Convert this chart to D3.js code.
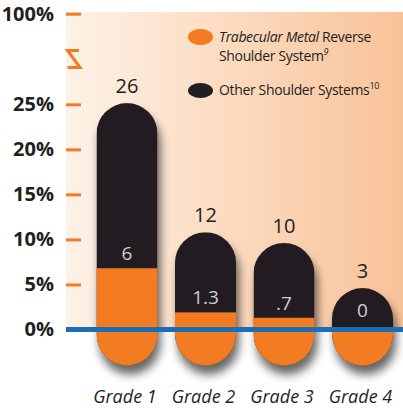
<!DOCTYPE html>
<html>
<head>
<meta charset="utf-8">
<script src="https://cdn.jsdelivr.net/npm/d3@7"></script>
<style>
  html, body { margin: 0; padding: 0; background: #fff; }
  svg { display: block; font-family: 'Open Sans', sans-serif; }
</style>
</head>
<body>
<div id="viz"></div>
<script>
const width = 403;
const height = 408;

// Data
const grades = ['Grade 1', 'Grade 2', 'Grade 3', 'Grade 4'];
const otherTop = [26, 10.8, 9.6, 4.6];   // top of each capsule, as drawn on the axis (%)
const tmTop = [6.8, 1.9, 1.3, 0];        // top of the orange part, as drawn (%)
const otherLabels = ['26', '12', '10', '3'];
const tmLabels = ['6', '1.3', '.7', '0'];
const yTicks = [0, 5, 10, 15, 20, 25, 100];
const yTickLabels = ['0%', '5%', '10%', '15%', '20%', '25%', '100%'];

const orange = '#f37b21';
const black = '#231f20';
const blue = '#1b6db5';

const svg = d3.select('#viz')
  .append('svg')
    .attr('width', width)
    .attr('height', height);

const defs = svg.append('defs');

const grad = defs.append('linearGradient')
    .attr('id', 'bg')
    .attr('x1', 0).attr('x2', 1).attr('y1', 0).attr('y2', 0);
grad.append('stop').attr('offset', '0%').attr('stop-color', '#fdf2e8');
grad.append('stop').attr('offset', '45%').attr('stop-color', '#fcdcc2');
grad.append('stop').attr('offset', '100%').attr('stop-color', '#f8c299');

const shadow = defs.append('filter')
    .attr('id', 'shadow')
    .attr('x', '-40%').attr('y', '-20%')
    .attr('width', '180%').attr('height', '160%');
shadow.append('feDropShadow')
    .attr('dx', 3).attr('dy', 9)
    .attr('stdDeviation', 5)
    .attr('flood-color', '#000')
    .attr('flood-opacity', 0.6);

// broken scale: 0-25 linear, then jump to 100
const yScale = d3.scaleLinear()
  .domain([0, 25, 100])
  .range([329.5, 104.3, 13.7]);

const xScale = d3.scalePoint()
  .domain(grades)
  .range([127, 362.5]);

const r = 30.5;
const base = yScale(0);
const bottomRy = 32;

// background panel
svg.append('rect')
    .attr('x', 66)
    .attr('y', 12)
    .attr('width', width - 66)
    .attr('height', base - 12)
    .attr('fill', 'url(#bg)');

// y axis
const yAxis = d3.axisLeft(yScale)
  .tickValues(yTicks)
  .tickFormat((d, i) => yTickLabels[i])
  .tickSizeInner(15)
  .tickSizeOuter(0)
  .tickPadding(12);

const yAxisGroup = svg.append('g')
    .attr('transform', 'translate(81, 0)')
    .call(yAxis);
yAxisGroup.select('.domain').remove();
yAxisGroup.selectAll('.tick line')
    .attr('stroke', orange)
    .attr('stroke-width', 3);
yAxisGroup.selectAll('.tick text')
    .attr('fill', black)
    .style('font-size', '20px')
    .style('font-weight', 700)
    .style('font-family', "'Open Sans', sans-serif");

// axis break mark
const breakY = (yScale(25) + yScale(100)) / 2;
svg.append('path')
    .attr('d', `M79,${breakY - 8.5} H67.5 L80,${breakY + 8.5} H67.5`)
    .attr('fill', 'none')
    .attr('stroke', orange)
    .attr('stroke-width', 3);

// capsule shape for each grade
const capsule = (d, i) => {
  const cx = xScale(d);
  const top = yScale(otherTop[i]);
  return `M${cx - r},${base + 4} V${top + r} A${r},${r} 0 0 1 ${cx + r},${top + r}` +
    ` V${base + 4} A${r},${bottomRy} 0 0 1 ${cx - r},${base + 4} Z`;
};

grades.forEach((g, i) => {
  defs.append('clipPath')
      .attr('id', `clip${i}`)
    .append('path')
      .attr('d', capsule(g, i));
});

const bars = svg.append('g')
  .selectAll('g')
  .data(grades)
  .join('g')
    .attr('filter', 'url(#shadow)');

const inner = bars.append('g')
    .attr('clip-path', (d, i) => `url(#clip${i})`);

inner.append('rect')
    .attr('x', d => xScale(d) - r)
    .attr('y', (d, i) => yScale(otherTop[i]))
    .attr('width', 2 * r)
    .attr('height', (d, i) => base - yScale(otherTop[i]) + 40)
    .attr('fill', black);

inner.append('rect')
    .attr('x', d => xScale(d) - r)
    .attr('y', (d, i) => yScale(tmTop[i]))
    .attr('width', 2 * r)
    .attr('height', (d, i) => base - yScale(tmTop[i]) + 40)
    .attr('fill', orange);

// blue baseline
svg.append('line')
    .attr('x1', 66)
    .attr('x2', width)
    .attr('y1', base)
    .attr('y2', base)
    .attr('stroke', blue)
    .attr('stroke-width', 5);

// value labels above bars
svg.append('g')
  .selectAll('text')
  .data(grades)
  .join('text')
    .attr('x', d => xScale(d))
    .attr('y', (d, i) => yScale(otherTop[i]) - 10)
    .attr('text-anchor', 'middle')
    .attr('fill', black)
    .style('font-size', '20px')
    .text((d, i) => otherLabels[i]);

// value labels inside bars
svg.append('g')
  .selectAll('text')
  .data(grades)
  .join('text')
    .attr('x', d => xScale(d))
    .attr('y', (d, i) => Math.min(yScale(tmTop[i]) - 8, base - 13))
    .attr('text-anchor', 'middle')
    .attr('fill', '#cfcfcf')
    .style('font-size', '19px')
    .text((d, i) => tmLabels[i]);

// grade labels
svg.append('g')
  .selectAll('text')
  .data(grades)
  .join('text')
    .attr('x', d => xScale(d) - 2)
    .attr('y', 403)
    .attr('text-anchor', 'middle')
    .attr('fill', black)
    .style('font-size', '18px')
    .style('font-style', 'italic')
    .text(d => d);

// legend
const legend = svg.append('g');
legend.append('ellipse')
    .attr('cx', 200.5).attr('cy', 37)
    .attr('rx', 12.5).attr('ry', 8)
    .attr('fill', orange);
legend.append('ellipse')
    .attr('cx', 200.5).attr('cy', 90.5)
    .attr('rx', 12.5).attr('ry', 7.5)
    .attr('fill', black);

const legendText = (y) => legend.append('text')
    .attr('x', 219).attr('y', y)
    .attr('fill', black)
    .style('font-size', '14px')
    .style('letter-spacing', '-0.35px');

const l1 = legendText(42);
l1.append('tspan').style('font-style', 'italic').text('Trabecular Metal');
l1.append('tspan').text(' Reverse');

const l2 = legendText(61);
l2.append('tspan').text('Shoulder System');
l2.append('tspan').attr('dy', -6).style('font-size', '9px').style('font-style', 'italic').text('9');

const l3 = legendText(95);
l3.append('tspan').text('Other Shoulder Systems');
l3.append('tspan').attr('dy', -6).style('font-size', '9px').text('10');
</script>
</body>
</html>
